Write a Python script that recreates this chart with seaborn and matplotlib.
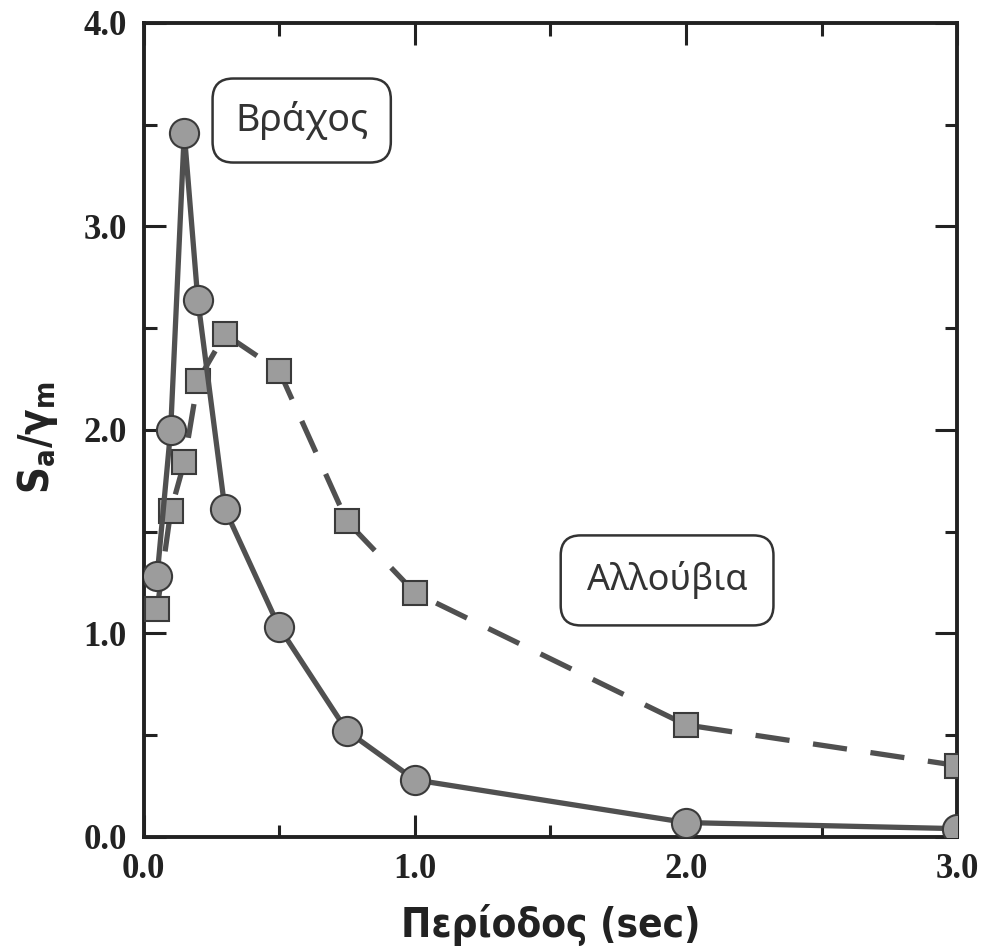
import matplotlib
matplotlib.use("Agg")
import matplotlib.pyplot as plt
import seaborn as sns
import pandas as pd
from matplotlib.ticker import MultipleLocator

# ---- data ----
period = [0.05, 0.10, 0.15, 0.20, 0.30, 0.50, 0.75, 1.00, 2.00, 3.00]
rock = [1.28, 2.00, 3.46, 2.64, 1.61, 1.03, 0.52, 0.28, 0.07, 0.04]
alluvium = [1.12, 1.60, 1.84, 2.24, 2.47, 2.29, 1.55, 1.20, 0.55, 0.35]
label_rock = "Βράχος"
label_alluvium = "Αλλούβια"
x_ticks = [0.0, 1.0, 2.0, 3.0]
y_ticks = [0.0, 1.0, 2.0, 3.0, 4.0]

sns.set_theme(style="ticks")
plt.rcParams['font.family'] = ['DejaVu Sans']
plt.rcParams['mathtext.fontset'] = 'custom'
plt.rcParams['mathtext.rm'] = 'DejaVu Sans:weight=bold:stretch=condensed'
plt.rcParams['mathtext.it'] = 'DejaVu Sans:weight=bold:stretch=condensed'
plt.rcParams['mathtext.bf'] = 'DejaVu Sans:weight=bold:stretch=condensed'

df_rock = pd.DataFrame({"T": period, "S": rock})
df_all = pd.DataFrame({"T": period, "S": alluvium})

fig = plt.figure(figsize=(9.9, 9.52), dpi=100)
ax = fig.add_axes([0.145, 0.121, 0.967 - 0.145, 0.976 - 0.121])

line_col = "#505050"
fill_col = "#9c9c9c"
edge_col = "#3a3a3a"

sns.lineplot(data=df_all, x="T", y="S", ax=ax, color=line_col, lw=3.8,
             marker="s", markersize=17, markerfacecolor=fill_col,
             markeredgecolor=edge_col, markeredgewidth=1.5, zorder=3)
ax.lines[-1].set_dashes([6.5, 4.5])
sns.lineplot(data=df_rock, x="T", y="S", ax=ax, color=line_col, lw=3.8,
             marker="o", markersize=21, markerfacecolor=fill_col,
             markeredgecolor=edge_col, markeredgewidth=1.5, zorder=4)

ax.set_xlim(0, 3.0)
ax.set_ylim(0, 4.0)
ax.set_xticks(x_ticks)
ax.set_yticks(y_ticks)
ax.xaxis.set_minor_locator(MultipleLocator(0.5))
ax.yaxis.set_minor_locator(MultipleLocator(0.5))
ax.set_xticklabels([f"{v:.1f}" for v in x_ticks])
ax.set_yticklabels([f"{v:.1f}" for v in y_ticks])

for lab in ax.get_xticklabels() + ax.get_yticklabels():
    lab.set_fontfamily(['Liberation Serif'])
    lab.set_fontweight('bold')
    lab.set_fontsize(25)
    lab.set_color('#222222')

ax.tick_params(which='major', direction='in', length=16, width=2.2,
               top=True, right=True, color='#222222', pad=12)
ax.tick_params(which='minor', direction='in', length=9, width=2.2,
               top=True, right=True, color='#222222')
ax.tick_params(axis='x', which='major', pad=12)
for s in ax.spines.values():
    s.set_linewidth(2.8)
    s.set_color('#222222')

ax.set_xlabel("Περίοδος (sec)", family=['DejaVu Sans'], fontstretch='condensed',
              fontweight='bold', fontsize=29, color='#222222')
ax.set_ylabel(r"$\mathrm{S_a/\gamma_m}$", fontsize=30, color='#222222')
ax.xaxis.set_label_coords(0.5, -0.082)
ax.yaxis.set_label_coords(-0.103, 0.49)

box_r = dict(boxstyle="round,pad=0.6,rounding_size=0.55", facecolor="white",
             edgecolor="#333333", linewidth=1.8)
box_a = dict(boxstyle="round,pad=0.72,rounding_size=0.55", facecolor="white",
             edgecolor="#333333", linewidth=1.8)
ax.text(0.583, 3.52, label_rock, ha='center', va='center', fontsize=27,
        family=['Noto Sans', 'DejaVu Sans'], color='#333333', bbox=box_r, zorder=5)
ax.text(1.93, 1.26, label_alluvium, ha='center', va='center', fontsize=26,
        family=['Noto Sans', 'DejaVu Sans'], color='#333333', bbox=box_a, zorder=5)

fig.savefig("out.png", dpi=100, facecolor="white")
